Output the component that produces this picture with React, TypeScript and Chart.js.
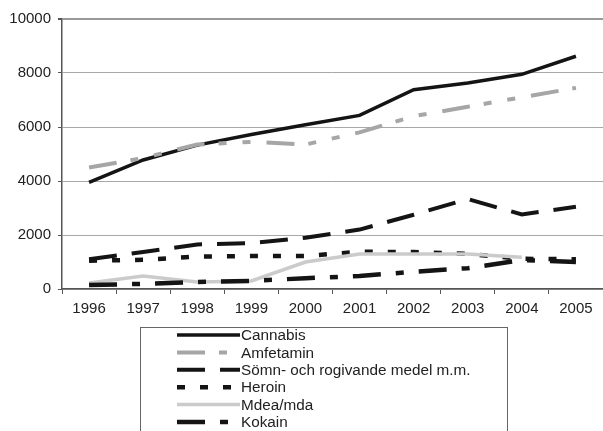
import React, { useEffect, useRef } from "react";
import { Chart, registerables } from "chart.js";

Chart.register(...registerables);

const years = ["1996", "1997", "1998", "1999", "2000", "2001", "2002", "2003", "2004", "2005"];
const seriesNames = ["Cannabis", "Amfetamin", "Sömn- och rogivande medel m.m.", "Heroin", "Mdea/mda", "Kokain"];
const cannabis = [3950, 4780, 5330, 5720, 6080, 6430, 7380, 7630, 7950, 8620];
const amfetamin = [4500, 4850, 5350, 5450, 5350, 5800, 6400, 6750, 7100, 7450];
const somn = [1100, 1370, 1650, 1700, 1900, 2200, 2750, 3330, 2760, 3050];
const heroin = [1050, 1080, 1200, 1220, 1220, 1380, 1370, 1300, 1120, 1100];
const mdea = [220, 480, 260, 300, 1000, 1300, 1300, 1300, 1180, null];
const kokain = [150, 190, 260, 300, 400, 480, 640, 770, 1070, 1000];
const yTicks = [0, 2000, 4000, 6000, 8000, 10000];

const FONT = "'Liberation Sans', Arial, sans-serif";

const styles = [
  { color: "#141414", width: 3.5, dash: [] as number[] },
  { color: "#a6a6a6", width: 4, dash: [28, 14, 8, 16, 8, 16] },
  { color: "#141414", width: 4, dash: [28, 15] },
  { color: "#141414", width: 4.5, dash: [8, 15] },
  { color: "#cbcbcb", width: 3.5, dash: [] as number[] },
  { color: "#141414", width: 4.5, dash: [28, 15, 8, 15] },
];

const legendPlugin = {
  id: "boxLegend",
  afterDraw(chart: any) {
    const ctx = chart.ctx;
    ctx.save();
    ctx.strokeStyle = "#666";
    ctx.lineWidth = 1;
    ctx.strokeRect(140.5, 327.5, 367, 120);
    chart.data.datasets.forEach((ds: any, i: number) => {
      const y = 335 + i * 17.4;
      ctx.beginPath();
      ctx.setLineDash(ds.borderDash || []);
      ctx.strokeStyle = ds.borderColor;
      ctx.lineWidth = ds.borderWidth;
      ctx.moveTo(177, y);
      ctx.lineTo(240, y);
      ctx.stroke();
      ctx.setLineDash([]);
      ctx.fillStyle = "#222";
      ctx.font = `15.3px ${FONT}`;
      ctx.textBaseline = "middle";
      ctx.textAlign = "left";
      ctx.fillText(ds.label, 241, y + 1);
    });
    ctx.restore();
  },
};

export default function App() {
  const ref = useRef<HTMLCanvasElement>(null);
  useEffect(() => {
    if (!ref.current) return;
    const values = [cannabis, amfetamin, somn, heroin, mdea, kokain];
    const chart = new Chart(ref.current, {
      type: "line",
      data: {
        labels: years,
        datasets: values.map((v, i) => ({
          label: seriesNames[i],
          data: v,
          borderColor: styles[i].color,
          backgroundColor: styles[i].color,
          borderWidth: styles[i].width,
          borderDash: styles[i].dash,
          borderCapStyle: "butt",
          pointRadius: 0,
          pointHoverRadius: 0,
          tension: 0,
          spanGaps: false,
          fill: false,
          order: values.length - i,
        })),
      },
      options: {
        responsive: false,
        animation: false,
        devicePixelRatio: 1,
        layout: { padding: { top: 19, left: 0, right: 0, bottom: 0 } },
        plugins: { legend: { display: false }, tooltip: { enabled: false } },
        scales: {
          x: {
            offset: true,
            grid: {
              offset: true,
              drawOnChartArea: false,
              drawTicks: true,
              tickLength: 5,
              tickColor: "#555",
            },
            border: { color: "#555", width: 1.5 },
            ticks: { color: "#222", font: { family: FONT, size: 15 }, padding: 6, maxRotation: 0 },
            afterFit: (s: any) => { s.height = 142; },
          },
          y: {
            min: 0,
            max: 10000,
            afterBuildTicks: (s: any) => { s.ticks = yTicks.map((v) => ({ value: v })); },
            grid: {
              color: (c: any) => (c.tick && c.tick.value === 10000 ? "#999" : "#a8a8a8"),
              lineWidth: (c: any) => (c.tick && c.tick.value === 10000 ? 2 : 1),
              drawTicks: true,
              tickLength: 4,
              tickColor: "#555",
            },
            border: { color: "#555", width: 1.5 },
            ticks: {
              color: "#222",
              font: { family: FONT, size: 15 },
              padding: 7,
              callback: (v: any) => String(v),
            },
            afterFit: (s: any) => { s.width = 62; },
          },
        },
      },
      plugins: [legendPlugin],
    });
    return () => chart.destroy();
  }, []);
  return (
    <div style={{ position: "fixed", left: 0, top: 0, width: 603, height: 431, overflow: "hidden", background: "#fff" }}>
      <canvas ref={ref} width={603} height={431} style={{ display: "block", width: 603, height: 431 }} />
    </div>
  );
}
